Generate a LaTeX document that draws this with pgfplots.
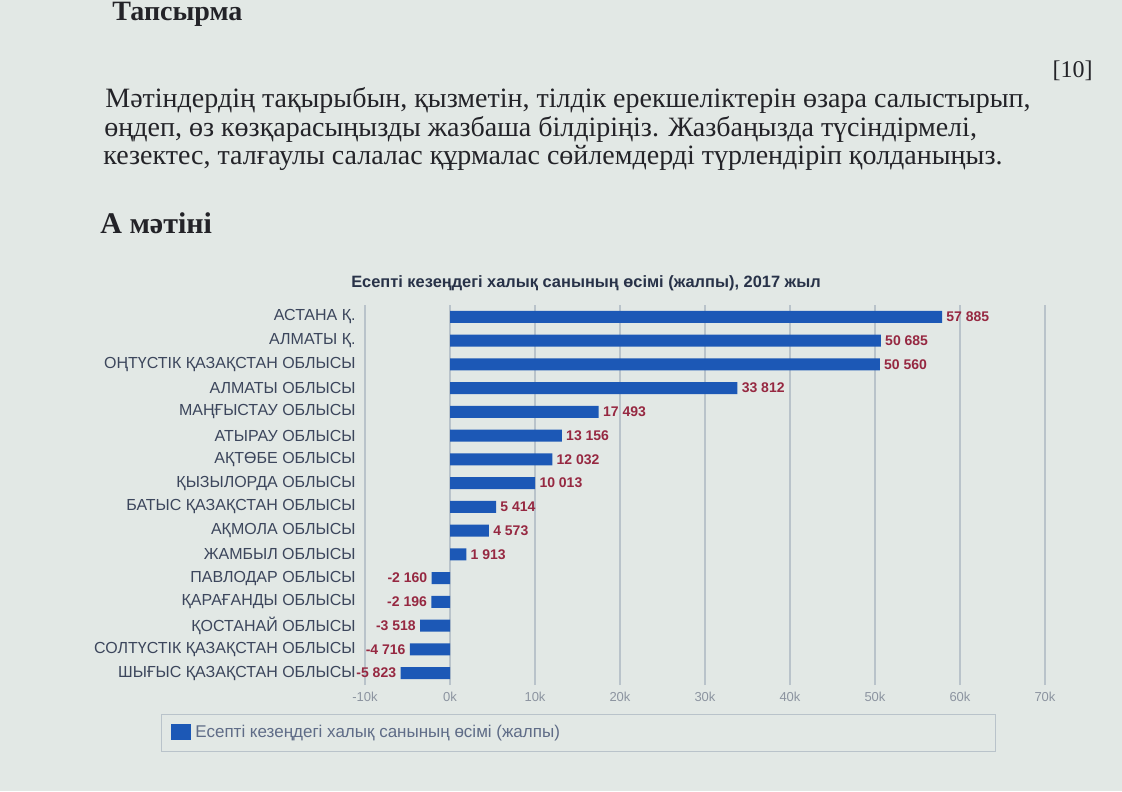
\documentclass[border=0pt]{standalone}
\usepackage{pgfplots}
\pgfplotsset{compat=1.18}
\usepackage{fontspec}
\setmainfont{Liberation Serif}
\newfontfamily\chartfont{Liberation Sans}
\definecolor{bg}{RGB}{226,232,229}
\definecolor{barblue}{RGB}{28,88,182}
\definecolor{valred}{RGB}{150,40,65}
\definecolor{catgray}{RGB}{60,70,92}
\definecolor{tickgray}{RGB}{140,148,160}
\definecolor{gridgray}{RGB}{185,195,202}
\definecolor{legendgray}{RGB}{95,108,135}
\definecolor{titlegray}{RGB}{40,50,72}
\definecolor{ink}{RGB}{35,35,40}

\begin{document}
\begin{tikzpicture}[x=0.5pt,y=-0.5pt]
\fill[bg] (0,0) rectangle (1122,791);
\path[use as bounding box] (0,0) rectangle (1122,791);

% task text above the chart
\begin{scope}[every node/.style={anchor=base west,inner sep=0pt,text=ink}]
\node[font=\fontsize{14}{16}\selectfont\bfseries] at (112,21) {Тапсырма};
\node[anchor=base east,font=\fontsize{12}{14}\selectfont] at (1093,78) {[10]};
\node[font=\fontsize{14}{16}\selectfont] at (105,108) {Мәтіндердің тақырыбын, қызметін, тілдік ерекшеліктерін өзара салыстырып,};
\node[font=\fontsize{14}{16}\selectfont] at (104,137) {өңдеп, өз көзқарасыңызды жазбаша білдіріңіз. Жазбаңызда түсіндірмелі,};
\node[font=\fontsize{14}{16}\selectfont] at (103,165) {кезектес, талғаулы салалас құрмалас сөйлемдерді түрлендіріп қолданыңыз.};
\node[font=\fontsize{15}{17}\selectfont\bfseries] at (100,233) {А мәтіні};
\end{scope}

\node[anchor=base,inner sep=0pt,text=titlegray,font=\chartfont\fontsize{8.2}{9}\selectfont\bfseries]
  at (586,287) {Есепті кезеңдегі халық санының өсімі (жалпы), 2017 жыл};

\begin{axis}[
    at={(182.5pt,-342.5pt)}, anchor=south west,
    scale only axis, width=340pt, height=190pt,
    xbar, bar width=6pt,
    xmin=-10000, xmax=70000,
    ymin=-0.5, ymax=15.5,
    xtick={-10000,0,10000,20000,30000,40000,50000,60000,70000},
    xticklabels={-10k,0k,10k,20k,30k,40k,50k,60k,70k},
    ytick={0,...,15},
    yticklabels={ШЫҒЫС ҚАЗАҚСТАН ОБЛЫСЫ, СОЛТҮСТІК ҚАЗАҚСТАН ОБЛЫСЫ,
        ҚОСТАНАЙ ОБЛЫСЫ, ҚАРАҒАНДЫ ОБЛЫСЫ, ПАВЛОДАР ОБЛЫСЫ, ЖАМБЫЛ ОБЛЫСЫ,
        АҚМОЛА ОБЛЫСЫ, БАТЫС ҚАЗАҚСТАН ОБЛЫСЫ, ҚЫЗЫЛОРДА ОБЛЫСЫ,
        АҚТӨБЕ ОБЛЫСЫ, АТЫРАУ ОБЛЫСЫ, МАҢҒЫСТАУ ОБЛЫСЫ, АЛМАТЫ ОБЛЫСЫ,
        ОҢТҮСТІК ҚАЗАҚСТАН ОБЛЫСЫ, АЛМАТЫ Қ., АСТАНА Қ.},
    major tick length=0pt,
    axis line style={draw=none},
    xmajorgrids, grid style={gridgray, line width=0.7pt},
    /pgf/number format/assume math mode=true,
    xticklabel style={font=\chartfont\fontsize{6.5}{7}\selectfont, text=tickgray},
    yticklabel style={font=\chartfont\fontsize{8}{9}\selectfont, text=catgray, inner sep=1.5pt, xshift=-3pt},
    nodes near coords={\pgfmathprintnumber[fixed,precision=0,1000 sep={\ }]{\pgfplotspointmeta}},
    nodes near coords align=horizontal,
    point meta=x,
    every node near coord/.append style={font=\chartfont\fontsize{7}{8}\selectfont\bfseries, text=valred, inner sep=2pt},
    legend style={at={(-0.30,-0.075)}, anchor=north west, draw=gridgray, fill=bg,
        font=\chartfont\fontsize{8.5}{9.5}\selectfont, text=legendgray,
        inner xsep=5pt, inner ysep=3.5pt},
    legend image code/.code={\fill[barblue] (0pt,-3.5pt) rectangle (10pt,4.5pt);},
]
\addplot[draw=none, fill=barblue] coordinates {
    (-5823,0)
    (-4716,1)
    (-3518,2)
    (-2196,3)
    (-2160,4)
    (1913,5)
    (4573,6)
    (5414,7)
    (10013,8)
    (12032,9)
    (13156,10)
    (17493,11)
    (33812,12)
    (50560,13)
    (50685,14)
    (57885,15)
};
\addlegendentry{\makebox[393pt][l]{Есепті кезеңдегі халық санының өсімі (жалпы)}}
\end{axis}
\end{tikzpicture}
\end{document}
